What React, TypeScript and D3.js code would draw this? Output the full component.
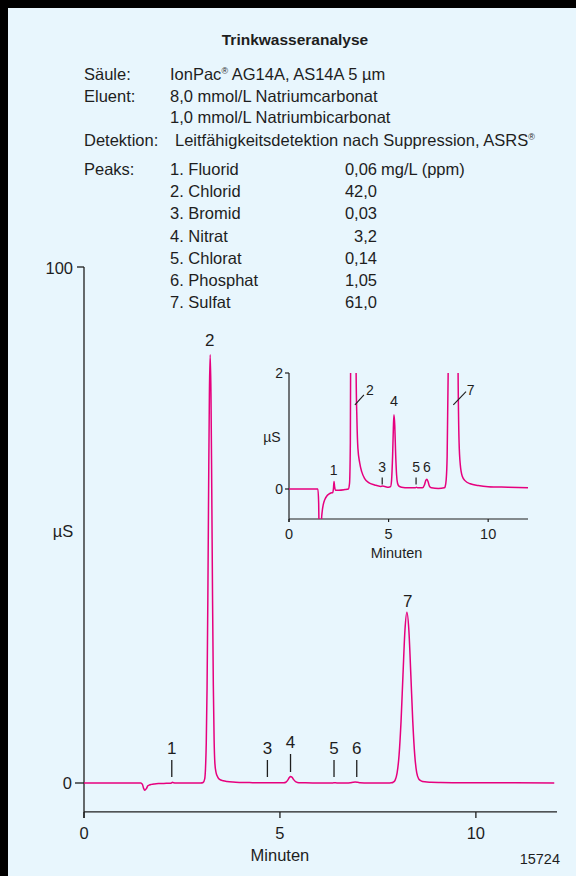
import React from 'react';
import * as d3 from 'd3';

// chromatogram trace, [minutes, µS]
const trace: [number, number][] = [
  [0, 0], [1.45, 0], [1.49, -0.25], [1.52, -1.0], [1.55, -1.4], [1.59, -1.1], [1.63, -0.55],
  [1.67, -0.38], [1.72, -0.27], [1.8, -0.18], [1.9, -0.12], [2.0, -0.09], [2.1, -0.07],
  [2.2, -0.06], [2.23, 0.0], [2.26, 0.13], [2.29, 0.04], [2.33, -0.02], [2.5, -0.02],
  [2.8, -0.01], [2.98, 0], [3.04, 0.1], [3.08, 0.8], [3.1, 2.77], [3.12, 7.8], [3.14, 18.3],
  [3.16, 35.4], [3.18, 56.9], [3.2, 75.5], [3.22, 83], [3.24, 75.5], [3.26, 57], [3.28, 36],
  [3.3, 19], [3.32, 8.5], [3.34, 3.8], [3.37, 2.0], [3.41, 1.2], [3.46, 0.7], [3.55, 0.45],
  [3.65, 0.3], [3.8, 0.18], [4.0, 0.11], [4.3, 0.07], [4.6, 0.045], [4.7, 0.05], [5.0, 0.03],
  [5.1, 0.04], [5.15, 0.15], [5.2, 0.55], [5.24, 1.05], [5.27, 1.28], [5.31, 1.1], [5.35, 0.65],
  [5.4, 0.25], [5.45, 0.1], [5.52, 0.05], [5.65, 0.03], [6.0, 0.02], [6.35, 0.02], [6.4, 0.03],
  [6.45, 0.02], [6.7, 0.02], [6.8, 0.07], [6.87, 0.15], [6.92, 0.17], [6.98, 0.13], [7.05, 0.05],
  [7.15, 0.02], [7.5, 0.01], [7.8, 0.02], [7.84, 0.04], [7.89, 0.15], [7.94, 0.56], [7.99, 1.95],
  [8.04, 5.4], [8.09, 11.9], [8.14, 21.0], [8.19, 29.6], [8.24, 33.1], [8.29, 29.6], [8.34, 21.0],
  [8.39, 11.9], [8.44, 5.4], [8.49, 2.0], [8.54, 0.8], [8.6, 0.42], [8.7, 0.22], [8.85, 0.14],
  [9.1, 0.09], [9.5, 0.06], [10, 0.04], [11, 0.03], [12, 0.02],
];

const peakNames = ['Fluorid', 'Chlorid', 'Bromid', 'Nitrat', 'Chlorat', 'Phosphat', 'Sulfat'];
const peakConc = ['0,06', '42,0', '0,03', '3,2', '0,14', '1,05', '61,0'];
const peakTimes = [2.24, 3.21, 4.68, 5.27, 6.38, 6.96, 8.26];
const peakTops = [0.13, 83, 0.05, 1.28, 0.03, 0.17, 33.1];

const xTicks = [0, 5, 10];
const headerRows = [
  ['Säule:', 'IonPac® AG14A, AS14A 5 µm'],
  ['Eluent:', '8,0 mmol/L Natriumcarbonat'],
  ['', '1,0 mmol/L Natriumbicarbonat'],
];

const FONT = '"Liberation Sans", Arial, Helvetica, sans-serif';
const PINK = '#e6007e';
const INK = '#1e1e1e';

export default function App() {
  // main chart
  const x = d3.scaleLinear().domain([0, 12.07]).range([84, 557]);
  const y = d3.scaleLinear().domain([0, 100]).range([783, 267]);
  const yBottom = y(-5.6);
  const line = d3.line<[number, number]>().x(d => x(d[0])).y(d => y(d[1])).curve(d3.curveMonotoneX);

  // inset
  const xi = d3.scaleLinear().domain([0, 12]).range([289, 528]);
  const yi = d3.scaleLinear().domain([0, 2]).range([489, 373]);
  const yiBottom = yi(-0.517);
  const lineIn = d3.line<[number, number]>().x(d => xi(d[0])).y(d => yi(d[1])).curve(d3.curveMonotoneX);

  const small = [0, 2, 4, 5]; // peaks 1,3,5,6 with markers in main chart

  return (
    <svg width={576} height={876} style={{ position: 'absolute', left: 0, top: 0 }} fontFamily={FONT}>
      <rect width={576} height={876} fill="#e8f6fd" />
      <rect width={576} height={8} fill="#000" />
      <rect width={8} height={876} fill="#000" />

      {/* header */}
      <text x={295} y={45} textAnchor="middle" fontSize={15.5} fontWeight="bold" fill={INK}>Trinkwasseranalyse</text>
      {headerRows.map((r, i) => (
        <g key={i} fontSize={16.5} fill={INK}>
          <text x={84} y={80 + i * 21.5}>{r[0]}</text>
          <text x={170} y={80 + i * 21.5}>
            {i === 0 ? (<>IonPac<tspan fontSize={9} dy={-6}>®</tspan><tspan dy={6}> AG14A, AS14A 5 µm</tspan></>) : r[1]}
          </text>
        </g>
      ))}
      <text x={84} y={145.5} fontSize={16.5} fill={INK}>Detektion:</text>
      <text x={175} y={145.5} fontSize={16.5} fill={INK}>
        Leitfähigkeitsdetektion nach Suppression, ASRS<tspan fontSize={9} dy={-6}>®</tspan>
      </text>
      <text x={84} y={175} fontSize={16.5} fill={INK}>Peaks:</text>
      {peakNames.map((n, i) => (
        <g key={n} fontSize={16.5} fill={INK}>
          <text x={170} y={175 + i * 22.2}>{`${i + 1}. ${n}`}</text>
          <text x={377} y={175 + i * 22.2} textAnchor="end">{peakConc[i]}</text>
          {i === 0 && <text x={381} y={175}>mg/L (ppm)</text>}
        </g>
      ))}

      {/* main axes */}
      <g stroke={INK} strokeWidth={1.3} fill="none">
        <line x1={x(0)} x2={x(0)} y1={y(100)} y2={yBottom + 6} />
        <line x1={x(0)} x2={x(12.07)} y1={yBottom} y2={yBottom} />
        <line x1={x(0) - 7} x2={x(0)} y1={y(100)} y2={y(100)} />
        <line x1={x(0) - 9} x2={x(0)} y1={y(0)} y2={y(0)} />
        {xTicks.map(t => <line key={t} x1={x(t)} x2={x(t)} y1={yBottom} y2={yBottom + 6} />)}
      </g>
      <g fontSize={16.5} fill={INK}>
        <text x={73} y={274} textAnchor="end">100</text>
        <text x={72} y={789} textAnchor="end">0</text>
        {xTicks.map(t => <text key={t} x={x(t)} y={839} textAnchor="middle">{t}</text>)}
        <text x={x(5)} y={861} textAnchor="middle">Minuten</text>
        <text x={63} y={537} textAnchor="middle">µS</text>
      </g>
      <text x={560} y={864} textAnchor="end" fontSize={14.5} fill={INK}>15724</text>

      <path d={line(trace) || ''} fill="none" stroke={PINK} strokeWidth={1.5} />

      {/* main peak labels */}
      <g fontSize={17} fill={INK} textAnchor="middle">
        <text x={x(peakTimes[1])} y={y(peakTops[1]) - 9}>2</text>
        <text x={x(peakTimes[6])} y={y(peakTops[6]) - 5}>7</text>
        {small.map(i => (
          <g key={i}>
            <line x1={x(peakTimes[i])} x2={x(peakTimes[i])} y1={y(0) - 6} y2={y(0) - 23} stroke={INK} strokeWidth={1.3} />
            <text x={x(peakTimes[i])} y={y(0) - 29}>{i + 1}</text>
          </g>
        ))}
        <line x1={x(peakTimes[3])} x2={x(peakTimes[3])} y1={y(0) - 11} y2={y(0) - 29} stroke={INK} strokeWidth={1.3} />
        <text x={x(peakTimes[3])} y={y(0) - 35}>4</text>
      </g>

      {/* inset */}
      <defs>
        <clipPath id="insetClip">
          <rect x={xi(0)} y={yi(2)} width={xi(12) - xi(0)} height={yiBottom - yi(2)} />
        </clipPath>
      </defs>
      <g stroke={INK} strokeWidth={1.2} fill="none">
        <line x1={xi(0)} x2={xi(0)} y1={yi(2)} y2={yiBottom + 3} />
        <line x1={xi(0)} x2={xi(12)} y1={yiBottom} y2={yiBottom} />
        <line x1={xi(0) - 4} x2={xi(0)} y1={yi(2)} y2={yi(2)} />
        <line x1={xi(0) - 4} x2={xi(0)} y1={yi(0)} y2={yi(0)} />
        {xTicks.map(t => <line key={t} x1={xi(t)} x2={xi(t)} y1={yiBottom} y2={yiBottom + 3} />)}
      </g>
      <g fontSize={14} fill={INK}>
        <text x={283} y={378} textAnchor="end">2</text>
        <text x={283} y={494} textAnchor="end">0</text>
        <text x={272} y={442} textAnchor="middle">µS</text>
      </g>
      <g fontSize={14.5} fill={INK} textAnchor="middle">
        {xTicks.map(t => <text key={t} x={xi(t)} y={539}>{t}</text>)}
        <text x={xi(5.4)} y={557.5}>Minuten</text>
      </g>
      <path d={lineIn(trace) || ''} fill="none" stroke={PINK} strokeWidth={1.5} clipPath="url(#insetClip)" />
      <g fontSize={14} fill={INK} stroke="none">
        <text x={xi(peakTimes[0])} y={yi(peakTops[0]) - 6} textAnchor="middle">1</text>
        <text x={xi(peakTimes[3])} y={yi(peakTops[3]) - 9} textAnchor="middle" fontSize={14.5}>4</text>
        <text x={xi(6.92)} y={yi(0) - 17} textAnchor="middle">6</text>
        {[2, 4].map(i => (
          <g key={i}>
            <line x1={xi(peakTimes[i])} x2={xi(peakTimes[i])} y1={yi(0) - 4.5} y2={yi(0) - 11.5} stroke={INK} strokeWidth={1.2} />
            <text x={xi(peakTimes[i])} y={yi(0) - 17} textAnchor="middle">{i + 1}</text>
          </g>
        ))}
        <line x1={xi(3.31)} y1={yi(1.45)} x2={xi(3.31) + 9} y2={yi(1.45) - 10} stroke={INK} strokeWidth={1.1} />
        <text x={xi(3.31) + 11} y={yi(1.45) - 10}>2</text>
        <line x1={xi(8.25)} y1={yi(1.45)} x2={xi(8.25) + 12.7} y2={yi(1.45) - 13.3} stroke={INK} strokeWidth={1.1} />
        <text x={xi(8.25) + 13.5} y={yi(1.45) - 10}>7</text>
      </g>
    </svg>
  );
}
